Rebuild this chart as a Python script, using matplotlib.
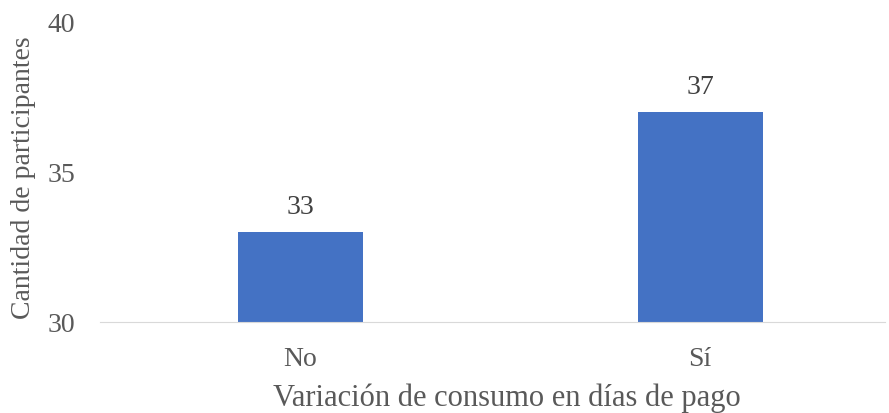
import matplotlib.pyplot as plt

categories = ["No", "Sí"]
values = [33, 37]
yticks = [30, 35, 40]

plt.rcParams['font.family'] = ['Liberation Serif', 'DejaVu Serif']

fig = plt.figure(figsize=(8.89, 4.13), dpi=100)
ax = fig.add_axes([100/889, 1 - 322/413, 785/889, 300/413])

x = list(range(len(categories)))
ax.bar(x, [v - 30 for v in values], bottom=30, width=0.3125, color="#4472C4")
for xi, v in zip(x, values):
    ax.text(xi, v + 0.4, str(v), ha="center", va="bottom", fontsize=20, color="#404040")

ax.set_xlim(-0.5, 1.4625)
ax.set_ylim(30, 40)
ax.set_yticks(yticks)
ax.set_xticks(x)
ax.set_xticklabels(categories)
ax.tick_params(axis="both", length=0, labelsize=20, colors="#595959", pad=18)
for s in ["top", "right", "left"]:
    ax.spines[s].set_visible(False)
ax.spines["bottom"].set_color("#D9D9D9")
ax.set_xlabel("Variación de consumo en días de pago", fontsize=22, color="#595959")
ax.set_ylabel("Cantidad de participantes", fontsize=20, color="#595959")
ax.xaxis.label.set_va("center")
ax.yaxis.label.set_va("center")
ax.xaxis.set_label_coords(0.518, -0.254)
ax.yaxis.set_label_coords(-0.097, 0.48)

fig.savefig("out.png", dpi=100)
